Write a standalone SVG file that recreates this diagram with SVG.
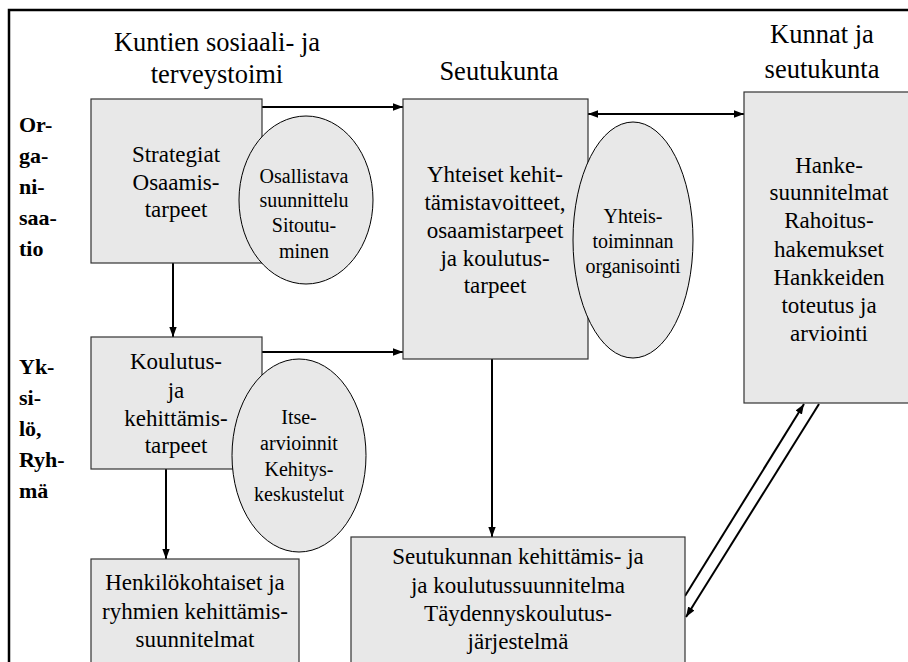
<svg xmlns="http://www.w3.org/2000/svg" width="908" height="662" viewBox="0 0 908 662">
<style>
.box{fill:#e8e8e8;stroke:#333;stroke-width:1.2}
.ell{fill:#e8e8e8;stroke:#000;stroke-width:1}
text{font-family:'Liberation Serif','Times New Roman',Times,serif}
.t{fill:#000;text-anchor:middle}
.b{font-size:23px}
.e{font-size:20px}
.h{font-size:26.5px}
.side{font-weight:bold;font-size:22px;fill:#000}
.c{stroke:#000;stroke-width:2;fill:none}
</style>
<defs>
<marker id="ah" viewBox="0 0 10 10" refX="10" refY="5" markerWidth="5" markerHeight="5" orient="auto-start-reverse" markerUnits="strokeWidth">
<path d="M0,1.3 L10,5 L0,8.7 z" fill="#000"/>
</marker>
</defs>
<rect x="9" y="10" width="920" height="700" fill="#fff" stroke="#000" stroke-width="2.5"/>
<g id="headers">
<text class="t h" x="217" y="51">Kuntien sosiaali- ja</text>
<text class="t h" x="217" y="83">terveystoimi</text>
<text class="t h" x="499" y="80">Seutukunta</text>
<text class="t h" x="822" y="43">Kunnat ja</text>
<text class="t h" x="822" y="78">seutukunta</text>
</g>
<g id="side-labels">
<text class="side" x="19" y="132">Or-</text>
<text class="side" x="19" y="163">ga-</text>
<text class="side" x="19" y="194">ni-</text>
<text class="side" x="19" y="225">saa-</text>
<text class="side" x="19" y="256">tio</text>
<text class="side" x="19" y="374">Yk-</text>
<text class="side" x="19" y="405">si-</text>
<text class="side" x="19" y="436">lö,</text>
<text class="side" x="19" y="467">Ryh-</text>
<text class="side" x="19" y="498">mä</text>
</g>
<g id="connectors">
<line class="c" x1="262" y1="107" x2="403" y2="107" marker-end="url(#ah)"/>
<line class="c" x1="588" y1="114" x2="744" y2="114" marker-start="url(#ah)" marker-end="url(#ah)"/>
<line class="c" x1="173" y1="263" x2="173" y2="337" marker-end="url(#ah)"/>
<line class="c" x1="262" y1="352" x2="403" y2="352" marker-end="url(#ah)"/>
<line class="c" x1="166" y1="469" x2="166" y2="559" marker-end="url(#ah)"/>
<line class="c" x1="492" y1="359" x2="492" y2="537" marker-end="url(#ah)"/>
<line class="c" x1="685" y1="596" x2="804" y2="404" marker-end="url(#ah)"/>
<line class="c" x1="819" y1="404" x2="686" y2="617" marker-end="url(#ah)"/>
</g>
<g id="strategiat">
<rect class="box" x="91" y="99" width="171" height="164"/>
<text class="t b" x="176" y="162">Strategiat</text>
<text class="t b" x="176" y="190">Osaamis-</text>
<text class="t b" x="176" y="217">tarpeet</text>
</g>
<g id="osallistava">
<ellipse class="ell" cx="306" cy="200" rx="67" ry="84"/>
<text class="t e" x="304" y="183">Osallistava</text>
<text class="t e" x="304" y="207">suunnittelu</text>
<text class="t e" x="304" y="232">Sitoutu-</text>
<text class="t e" x="304" y="258">minen</text>
</g>
<g id="yhteiset">
<rect class="box" x="403" y="99" width="185" height="260"/>
<text class="t b" x="495" y="182">Yhteiset kehit-</text>
<text class="t b" x="495" y="210">tämistavoitteet,</text>
<text class="t b" x="495" y="238">osaamistarpeet</text>
<text class="t b" x="495" y="266">ja koulutus-</text>
<text class="t b" x="495" y="293">tarpeet</text>
</g>
<g id="yhteistoiminta">
<ellipse class="ell" cx="633" cy="240" rx="60" ry="118"/>
<text class="t e" x="633" y="223">Yhteis-</text>
<text class="t e" x="633" y="248">toiminnan</text>
<text class="t e" x="633" y="273">organisointi</text>
</g>
<g id="hanke">
<rect class="box" x="744" y="92" width="180" height="311"/>
<text class="t b" x="829" y="173">Hanke-</text>
<text class="t b" x="829" y="200">suunnitelmat</text>
<text class="t b" x="829" y="228">Rahoitus-</text>
<text class="t b" x="829" y="257">hakemukset</text>
<text class="t b" x="829" y="285">Hankkeiden</text>
<text class="t b" x="829" y="313">toteutus ja</text>
<text class="t b" x="829" y="341">arviointi</text>
</g>
<g id="koulutus">
<rect class="box" x="91" y="337" width="171" height="132"/>
<text class="t b" x="176" y="369">Koulutus-</text>
<text class="t b" x="176" y="398">ja</text>
<text class="t b" x="176" y="426">kehittämis-</text>
<text class="t b" x="176" y="453">tarpeet</text>
</g>
<g id="itsearvioinnit">
<ellipse class="ell" cx="299" cy="455.5" rx="67" ry="96.5"/>
<text class="t e" x="299" y="424">Itse-</text>
<text class="t e" x="299" y="450">arvioinnit</text>
<text class="t e" x="299" y="476">Kehitys-</text>
<text class="t e" x="299" y="501">keskustelut</text>
</g>
<g id="henkilokohtaiset">
<rect class="box" x="91" y="559" width="208" height="120"/>
<text class="t b" x="195" y="590">Henkilökohtaiset ja</text>
<text class="t b" x="195" y="619">ryhmien kehittämis-</text>
<text class="t b" x="195" y="647">suunnitelmat</text>
</g>
<g id="seutukunnan">
<rect class="box" x="351" y="537" width="334" height="140"/>
<text class="t b" x="518" y="564">Seutukunnan kehittämis- ja</text>
<text class="t b" x="518" y="593">ja koulutussuunnitelma</text>
<text class="t b" x="518" y="621">Täydennyskoulutus-</text>
<text class="t b" x="518" y="649">järjestelmä</text>
</g>
</svg>
